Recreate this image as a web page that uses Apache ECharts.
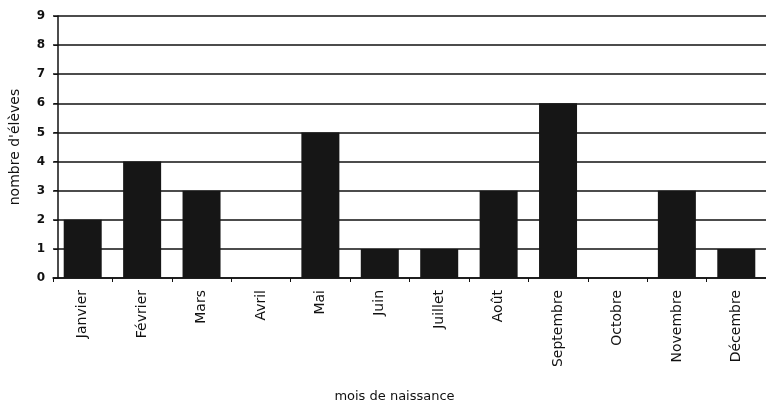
<!DOCTYPE html>
<html>
<head>
<meta charset="utf-8">
<script src="https://cdn.jsdelivr.net/npm/echarts@6/dist/echarts.min.js"></script>
<style>
html, body { margin: 0; padding: 0; background: #fff; }
#chart { width: 766px; height: 409px; }
</style>
</head>
<body>
<div id="chart"></div>
<script>
var months = ['Janvier', 'Février', 'Mars', 'Avril', 'Mai', 'Juin',
	'Juillet', 'Août', 'Septembre', 'Octobre', 'Novembre', 'Décembre'];
var eleves = [2, 4, 3, 0, 5, 1, 1, 3, 6, 0, 3, 1];
var yTicks = [0, 9, 1];

var chart = echarts.init(document.getElementById('chart'));
var font = 'DejaVu Sans';

chart.setOption({
	animation: false,
	grid: { left: 52, top: 16, width: 716, bottom: 131 },
	xAxis: {
		type: 'category',
		data: months,
		name: 'mois de naissance',
		nameLocation: 'middle',
		nameGap: 112,
		nameTextStyle: { fontFamily: font, fontSize: 13, color: '#111', padding: [0, 30, 0, 0] },
		axisLine: { lineStyle: { color: '#111', width: 1.5 } },
		axisTick: { show: true, length: 4, lineStyle: { color: '#111' } },
		axisLabel: {
			rotate: 90, margin: 12, interval: 0,
			fontFamily: font, fontSize: 14, color: '#111'
		}
	},
	yAxis: {
		type: 'value',
		min: yTicks[0], max: yTicks[1], interval: yTicks[2],
		offset: -5,
		name: "nombre d'élèves",
		nameLocation: 'middle',
		nameGap: 36,
		nameTextStyle: { fontFamily: font, fontSize: 14, color: '#111' },
		axisLine: { show: true, lineStyle: { color: '#111', width: 1.5 } },
		axisTick: { show: true, length: 4, lineStyle: { color: '#111' } },
		axisLabel: { margin: 13, fontFamily: font, fontSize: 12, fontWeight: 'bold', color: '#111' },
		splitLine: { lineStyle: { color: '#111', width: 1.5 } }
	},
	series: [{
		type: 'bar',
		data: eleves,
		barWidth: 38,
		itemStyle: { color: '#161616' }
	}]
});
</script>
</body>
</html>
